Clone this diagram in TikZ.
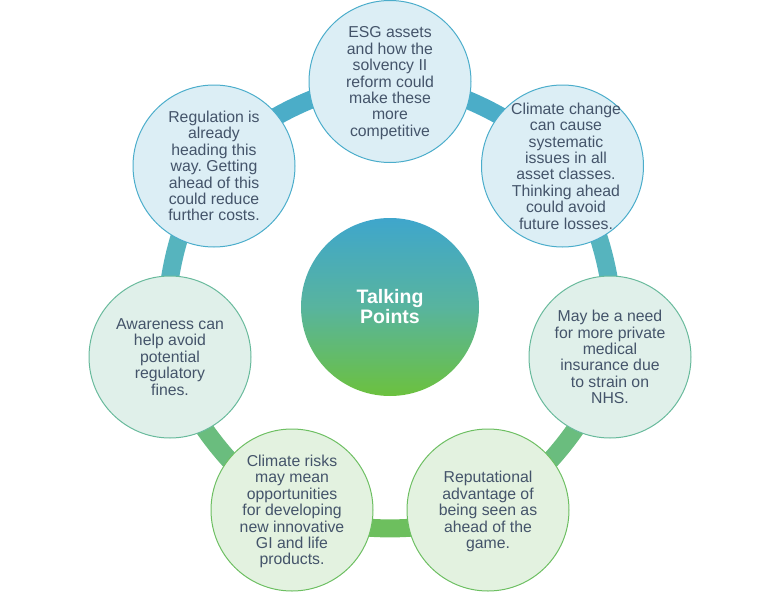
\documentclass[tikz,border=0pt]{standalone}
\usepackage{fontspec}
\setmainfont{Liberation Sans}
\usetikzlibrary{backgrounds}

\definecolor{txtcol}{HTML}{44546A}
\definecolor{blueline}{HTML}{4BADC8}
\definecolor{tealline}{HTML}{56B4BE}
\definecolor{sealine}{HTML}{6ABD7E}
\definecolor{greenline}{HTML}{6DBF5E}
\definecolor{bluefill}{HTML}{DCEEF5}
\definecolor{tealfill}{HTML}{E0F0EA}
\definecolor{greenfill}{HTML}{E3F2E0}
\definecolor{bluedraw}{HTML}{4BADCB}
\definecolor{tealdraw}{HTML}{68BA9C}
\definecolor{greendraw}{HTML}{6DBF62}
\definecolor{topgrad}{HTML}{3FA6CC}
\definecolor{midgrad}{HTML}{58B49E}
\definecolor{botgrad}{HTML}{6CC13E}

\tikzset{
	talk/.style={draw,circle,line width=1pt,minimum size=162pt,inner sep=-30pt,align=center,
		text=txtcol,font=\fontsize{15.8}{16.4}\selectfont\frenchspacing},
	bluetalk/.style={talk,draw=bluedraw,fill=bluefill},
	tealtalk/.style={talk,draw=tealdraw,fill=tealfill},
	greentalk/.style={talk,draw=greendraw,fill=greenfill},
	ring/.style={line width=18pt,bend left=25.7,looseness=0.74},
}

\begin{document}
\begin{tikzpicture}[x=1pt,y=-1pt]

	\useasboundingbox (0,0) rectangle (780,592);

	\node[bluetalk] (esg) at (390,81.5) {ESG assets\\and how the\\solvency II\\reform could\\make these\\more\\\smash{competitive}};
	\node[bluetalk] (climate) at (562.5,166) {};
	\node[talk,draw=none] (climate_t) at (566,166) {Climate change\\can cause\\systematic\\issues in all\\asset classes.\\Thinking ahead\\could avoid\\future losses.};
	\node[tealtalk] (nhs) at (610,357) {May be a need\\for more private\\medical\\insurance due\\to strain on\\NHS.};
	\node[greentalk] (reput) at (488,510) {Reputational\\advantage of\\being seen as\\ahead of the\\\smash{game.}};
	\node[greentalk] (risks) at (292,510) {Climate risks\\may mean\\opportunities\\for developing\\new innovative\\GI and life\\\smash{products.}};
	\node[tealtalk] (aware) at (170,357) {Awareness can\\help avoid\\potential\\regulatory\\fines.};
	\node[bluetalk] (regul) at (214,166) {Regulation is\\already\\heading this\\way. Getting\\ahead of this\\could reduce\\further costs.};

	\node[circle,minimum size=178pt,inner sep=0pt,top color=topgrad,bottom color=botgrad,middle color=midgrad,
		align=center,text=white,font=\fontsize{19.5}{20}\selectfont\bfseries] (points) at (390,307) {Talking\\Points};

	% links behind the circles
	\begin{scope}[on background layer,every path/.style={ring}]
		\draw[blueline] (regul.center) to (esg.center);
		\draw[blueline] (esg.center) to (climate.center);
		\draw[tealline] (climate.center) to (nhs.center);
		\draw[sealine] (nhs.center) to (reput.center);
		\draw[greenline] (reput.center) to (risks.center);
		\draw[sealine] (risks.center) to (aware.center);
		\draw[tealline] (aware.center) to (regul.center);
	\end{scope}

\end{tikzpicture}
\end{document}
